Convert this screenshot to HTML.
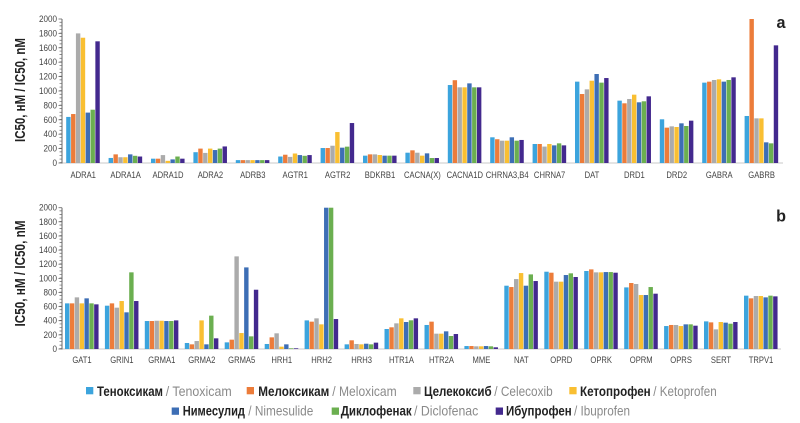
<!DOCTYPE html>
<html><head><meta charset="utf-8"><style>
html,body{margin:0;padding:0;background:#fff;}
svg{display:block;}
.c0{fill:#3CA4DD}.c1{fill:#EC7C3A}.c2{fill:#ABABAB}.c3{fill:#F9BF32}.c4{fill:#3D6EB5}.c5{fill:#6BAF50}.c6{fill:#43298E}
.tk{font-family:"Liberation Sans",sans-serif;font-size:9px;fill:#444;}
.cl{font-family:"Liberation Sans",sans-serif;font-size:9.3px;fill:#444;}
.yt{font-family:"Liberation Sans",sans-serif;font-size:15px;font-weight:bold;fill:#222;}
.lb{font-family:"Liberation Sans","Noto Sans CJK SC",sans-serif;font-size:14px;font-weight:bold;fill:#222;}
.lg{font-family:"Liberation Sans",sans-serif;font-size:14px;fill:#8a8a8a;}
.pl{font-family:"Liberation Sans",sans-serif;font-size:17px;font-weight:bold;fill:#222;}
</style></head><body>
<svg width="800" height="423" viewBox="0 0 800 423" xmlns="http://www.w3.org/2000/svg">
<rect width="800" height="423" fill="#fff"/>

<!-- ===== TOP CHART ===== -->
<line x1="62" y1="163" x2="783" y2="163" stroke="#c8c8c8" stroke-width="1"/>
<line x1="62" y1="19" x2="62" y2="163.5" stroke="#666" stroke-width="1"/>
<line x1="60.75" y1="163" x2="60.75" y2="19" stroke="#666" stroke-width="2.5" stroke-dasharray="0.7 2.9"/>
<g stroke="#666" stroke-width="0.8">
<line x1="58.5" x2="62" y1="163" y2="163"/><line x1="58.5" x2="62" y1="148.6" y2="148.6"/><line x1="58.5" x2="62" y1="134.2" y2="134.2"/><line x1="58.5" x2="62" y1="119.8" y2="119.8"/><line x1="58.5" x2="62" y1="105.4" y2="105.4"/><line x1="58.5" x2="62" y1="91" y2="91"/><line x1="58.5" x2="62" y1="76.6" y2="76.6"/><line x1="58.5" x2="62" y1="62.2" y2="62.2"/><line x1="58.5" x2="62" y1="47.8" y2="47.8"/><line x1="58.5" x2="62" y1="33.4" y2="33.4"/><line x1="58.5" x2="62" y1="19" y2="19"/>
</g>
<g class="tk" text-anchor="end">
<text transform="translate(57,166) scale(0.9,1)">0</text>
<text transform="translate(57,151.6) scale(0.9,1)">200</text>
<text transform="translate(57,137.2) scale(0.9,1)">400</text>
<text transform="translate(57,122.8) scale(0.9,1)">600</text>
<text transform="translate(57,108.4) scale(0.9,1)">800</text>
<text transform="translate(57,94) scale(0.9,1)">1000</text>
<text transform="translate(57,79.6) scale(0.9,1)">1200</text>
<text transform="translate(57,65.2) scale(0.9,1)">1400</text>
<text transform="translate(57,50.8) scale(0.9,1)">1600</text>
<text transform="translate(57,36.4) scale(0.9,1)">1800</text>
<text transform="translate(57,22) scale(0.9,1)">2000</text>
</g>
<text class="yt" transform="translate(25,90) rotate(-90)" text-anchor="middle" textLength="104" lengthAdjust="spacingAndGlyphs">IC50, нМ / IC50, nM</text>
<text class="pl" transform="translate(781,28) scale(0.95,1)" text-anchor="middle">a</text>

<!-- bars top -->
<g transform="translate(83.2,163) scale(1,-0.072)"><rect x="-17" width="4.4" height="640" class="c0"/><rect x="-12.14" width="4.4" height="680" class="c1"/><rect x="-7.28" width="4.4" height="1800" class="c2"/><rect x="-2.42" width="4.4" height="1740" class="c3"/><rect x="2.44" width="4.4" height="700" class="c4"/><rect x="7.3" width="4.4" height="740" class="c5"/><rect x="12.16" width="4.4" height="1690" class="c6"/></g>
<g transform="translate(125.6,163) scale(1,-0.072)"><rect x="-17" width="4.4" height="70" class="c0"/><rect x="-12.14" width="4.4" height="120" class="c1"/><rect x="-7.28" width="4.4" height="80" class="c2"/><rect x="-2.42" width="4.4" height="80" class="c3"/><rect x="2.44" width="4.4" height="120" class="c4"/><rect x="7.3" width="4.4" height="100" class="c5"/><rect x="12.16" width="4.4" height="90" class="c6"/></g>
<g transform="translate(168,163) scale(1,-0.072)"><rect x="-17" width="4.4" height="60" class="c0"/><rect x="-12.14" width="4.4" height="60" class="c1"/><rect x="-7.28" width="4.4" height="110" class="c2"/><rect x="-2.42" width="4.4" height="30" class="c3"/><rect x="2.44" width="4.4" height="50" class="c4"/><rect x="7.3" width="4.4" height="90" class="c5"/><rect x="12.16" width="4.4" height="60" class="c6"/></g>
<g transform="translate(210.4,163) scale(1,-0.072)"><rect x="-17" width="4.4" height="150" class="c0"/><rect x="-12.14" width="4.4" height="200" class="c1"/><rect x="-7.28" width="4.4" height="140" class="c2"/><rect x="-2.42" width="4.4" height="200" class="c3"/><rect x="2.44" width="4.4" height="180" class="c4"/><rect x="7.3" width="4.4" height="200" class="c5"/><rect x="12.16" width="4.4" height="230" class="c6"/></g>
<g transform="translate(252.8,163) scale(1,-0.072)"><rect x="-17" width="4.4" height="40" class="c0"/><rect x="-12.14" width="4.4" height="40" class="c1"/><rect x="-7.28" width="4.4" height="40" class="c2"/><rect x="-2.42" width="4.4" height="40" class="c3"/><rect x="2.44" width="4.4" height="40" class="c4"/><rect x="7.3" width="4.4" height="40" class="c5"/><rect x="12.16" width="4.4" height="40" class="c6"/></g>
<g transform="translate(295.2,163) scale(1,-0.072)"><rect x="-17" width="4.4" height="90" class="c0"/><rect x="-12.14" width="4.4" height="115" class="c1"/><rect x="-7.28" width="4.4" height="85" class="c2"/><rect x="-2.42" width="4.4" height="132" class="c3"/><rect x="2.44" width="4.4" height="110" class="c4"/><rect x="7.3" width="4.4" height="100" class="c5"/><rect x="12.16" width="4.4" height="110" class="c6"/></g>
<g transform="translate(337.6,163) scale(1,-0.072)"><rect x="-17" width="4.4" height="208" class="c0"/><rect x="-12.14" width="4.4" height="208" class="c1"/><rect x="-7.28" width="4.4" height="240" class="c2"/><rect x="-2.42" width="4.4" height="430" class="c3"/><rect x="2.44" width="4.4" height="213" class="c4"/><rect x="7.3" width="4.4" height="227" class="c5"/><rect x="12.16" width="4.4" height="555" class="c6"/></g>
<g transform="translate(380,163) scale(1,-0.072)"><rect x="-17" width="4.4" height="102" class="c0"/><rect x="-12.14" width="4.4" height="120" class="c1"/><rect x="-7.28" width="4.4" height="120" class="c2"/><rect x="-2.42" width="4.4" height="111" class="c3"/><rect x="2.44" width="4.4" height="102" class="c4"/><rect x="7.3" width="4.4" height="102" class="c5"/><rect x="12.16" width="4.4" height="102" class="c6"/></g>
<g transform="translate(422.4,163) scale(1,-0.072)"><rect x="-17" width="4.4" height="143" class="c0"/><rect x="-12.14" width="4.4" height="176" class="c1"/><rect x="-7.28" width="4.4" height="143" class="c2"/><rect x="-2.42" width="4.4" height="102" class="c3"/><rect x="2.44" width="4.4" height="134" class="c4"/><rect x="7.3" width="4.4" height="69" class="c5"/><rect x="12.16" width="4.4" height="69" class="c6"/></g>
<g transform="translate(464.8,163) scale(1,-0.072)"><rect x="-17" width="4.4" height="1083" class="c0"/><rect x="-12.14" width="4.4" height="1150" class="c1"/><rect x="-7.28" width="4.4" height="1051" class="c2"/><rect x="-2.42" width="4.4" height="1051" class="c3"/><rect x="2.44" width="4.4" height="1106" class="c4"/><rect x="7.3" width="4.4" height="1051" class="c5"/><rect x="12.16" width="4.4" height="1051" class="c6"/></g>
<g transform="translate(507.2,163) scale(1,-0.072)"><rect x="-17" width="4.4" height="357" class="c0"/><rect x="-12.14" width="4.4" height="330" class="c1"/><rect x="-7.28" width="4.4" height="310" class="c2"/><rect x="-2.42" width="4.4" height="310" class="c3"/><rect x="2.44" width="4.4" height="357" class="c4"/><rect x="7.3" width="4.4" height="310" class="c5"/><rect x="12.16" width="4.4" height="320" class="c6"/></g>
<g transform="translate(549.6,163) scale(1,-0.072)"><rect x="-17" width="4.4" height="264" class="c0"/><rect x="-12.14" width="4.4" height="264" class="c1"/><rect x="-7.28" width="4.4" height="228" class="c2"/><rect x="-2.42" width="4.4" height="264" class="c3"/><rect x="2.44" width="4.4" height="245" class="c4"/><rect x="7.3" width="4.4" height="273" class="c5"/><rect x="12.16" width="4.4" height="245" class="c6"/></g>
<g transform="translate(592,163) scale(1,-0.072)"><rect x="-17" width="4.4" height="1130" class="c0"/><rect x="-12.14" width="4.4" height="958" class="c1"/><rect x="-7.28" width="4.4" height="1023" class="c2"/><rect x="-2.42" width="4.4" height="1143" class="c3"/><rect x="2.44" width="4.4" height="1236" class="c4"/><rect x="7.3" width="4.4" height="1116" class="c5"/><rect x="12.16" width="4.4" height="1180" class="c6"/></g>
<g transform="translate(634.4,163) scale(1,-0.072)"><rect x="-17" width="4.4" height="866" class="c0"/><rect x="-12.14" width="4.4" height="829" class="c1"/><rect x="-7.28" width="4.4" height="889" class="c2"/><rect x="-2.42" width="4.4" height="949" class="c3"/><rect x="2.44" width="4.4" height="843" class="c4"/><rect x="7.3" width="4.4" height="857" class="c5"/><rect x="12.16" width="4.4" height="926" class="c6"/></g>
<g transform="translate(676.8,163) scale(1,-0.072)"><rect x="-17" width="4.4" height="607" class="c0"/><rect x="-12.14" width="4.4" height="491" class="c1"/><rect x="-7.28" width="4.4" height="509" class="c2"/><rect x="-2.42" width="4.4" height="500" class="c3"/><rect x="2.44" width="4.4" height="551" class="c4"/><rect x="7.3" width="4.4" height="514" class="c5"/><rect x="12.16" width="4.4" height="588" class="c6"/></g>
<g transform="translate(719.2,163) scale(1,-0.072)"><rect x="-17" width="4.4" height="1116" class="c0"/><rect x="-12.14" width="4.4" height="1130" class="c1"/><rect x="-7.28" width="4.4" height="1153" class="c2"/><rect x="-2.42" width="4.4" height="1162" class="c3"/><rect x="2.44" width="4.4" height="1130" class="c4"/><rect x="7.3" width="4.4" height="1153" class="c5"/><rect x="12.16" width="4.4" height="1190" class="c6"/></g>
<g transform="translate(761.6,163) scale(1,-0.072)"><rect x="-17" width="4.4" height="653" class="c0"/><rect x="-12.14" width="4.4" height="2000" class="c1"/><rect x="-7.28" width="4.4" height="620" class="c2"/><rect x="-2.42" width="4.4" height="620" class="c3"/><rect x="2.44" width="4.4" height="287" class="c4"/><rect x="7.3" width="4.4" height="273" class="c5"/><rect x="12.16" width="4.4" height="1634" class="c6"/></g>

<g class="cl" text-anchor="middle">
<text transform="translate(83.2,178) scale(0.82,1)">ADRA1</text>
<text transform="translate(125.6,178) scale(0.82,1)">ADRA1A</text>
<text transform="translate(168,178) scale(0.82,1)">ADRA1D</text>
<text transform="translate(210.4,178) scale(0.82,1)">ADRA2</text>
<text transform="translate(252.8,178) scale(0.82,1)">ADRB3</text>
<text transform="translate(295.2,178) scale(0.82,1)">AGTR1</text>
<text transform="translate(337.6,178) scale(0.82,1)">AGTR2</text>
<text transform="translate(380,178) scale(0.82,1)">BDKRB1</text>
<text transform="translate(422.4,178) scale(0.82,1)">CACNA(X)</text>
<text transform="translate(464.8,178) scale(0.82,1)">CACNA1D</text>
<text transform="translate(507.2,178) scale(0.82,1)">CHRNA3,B4</text>
<text transform="translate(549.6,178) scale(0.82,1)">CHRNA7</text>
<text transform="translate(592,178) scale(0.82,1)">DAT</text>
<text transform="translate(634.4,178) scale(0.82,1)">DRD1</text>
<text transform="translate(676.8,178) scale(0.82,1)">DRD2</text>
<text transform="translate(719.2,178) scale(0.82,1)">GABRA</text>
<text transform="translate(761.6,178) scale(0.82,1)">GABRB</text>
</g>

<!-- ===== BOTTOM CHART ===== -->
<line x1="62" y1="349" x2="781" y2="349" stroke="#c8c8c8" stroke-width="1"/>
<line x1="62" y1="207.7" x2="62" y2="349.5" stroke="#666" stroke-width="1"/>
<line x1="60.75" y1="349" x2="60.75" y2="207.7" stroke="#666" stroke-width="2.5" stroke-dasharray="0.7 2.833"/>
<g stroke="#666" stroke-width="0.8">
<line x1="58.5" x2="62" y1="349" y2="349"/><line x1="58.5" x2="62" y1="334.9" y2="334.9"/><line x1="58.5" x2="62" y1="320.7" y2="320.7"/><line x1="58.5" x2="62" y1="306.6" y2="306.6"/><line x1="58.5" x2="62" y1="292.5" y2="292.5"/><line x1="58.5" x2="62" y1="278.4" y2="278.4"/><line x1="58.5" x2="62" y1="264.2" y2="264.2"/><line x1="58.5" x2="62" y1="250.1" y2="250.1"/><line x1="58.5" x2="62" y1="236" y2="236"/><line x1="58.5" x2="62" y1="221.8" y2="221.8"/><line x1="58.5" x2="62" y1="207.7" y2="207.7"/>
</g>
<g class="tk" text-anchor="end">
<text transform="translate(57,352) scale(0.9,1)">0</text>
<text transform="translate(57,337.9) scale(0.9,1)">200</text>
<text transform="translate(57,323.7) scale(0.9,1)">400</text>
<text transform="translate(57,309.6) scale(0.9,1)">600</text>
<text transform="translate(57,295.5) scale(0.9,1)">800</text>
<text transform="translate(57,281.4) scale(0.9,1)">1000</text>
<text transform="translate(57,267.2) scale(0.9,1)">1200</text>
<text transform="translate(57,253.1) scale(0.9,1)">1400</text>
<text transform="translate(57,239) scale(0.9,1)">1600</text>
<text transform="translate(57,224.8) scale(0.9,1)">1800</text>
<text transform="translate(57,210.7) scale(0.9,1)">2000</text>
</g>
<text class="yt" transform="translate(25,273.5) rotate(-90)" text-anchor="middle" textLength="106" lengthAdjust="spacingAndGlyphs">IC50, нМ / IC50, nM</text>
<text class="pl" transform="translate(781,221.5) scale(0.95,1)" text-anchor="middle">b</text>

<!-- bars bottom -->
<g transform="translate(82,349) scale(1,-0.07065)"><rect x="-17" width="4.4" height="646" class="c0"/><rect x="-12.14" width="4.4" height="646" class="c1"/><rect x="-7.28" width="4.4" height="731" class="c2"/><rect x="-2.42" width="4.4" height="646" class="c3"/><rect x="2.44" width="4.4" height="717" class="c4"/><rect x="7.3" width="4.4" height="646" class="c5"/><rect x="12.16" width="4.4" height="632" class="c6"/></g>
<g transform="translate(121.9,349) scale(1,-0.07065)"><rect x="-17" width="4.4" height="613" class="c0"/><rect x="-12.14" width="4.4" height="646" class="c1"/><rect x="-7.28" width="4.4" height="585" class="c2"/><rect x="-2.42" width="4.4" height="679" class="c3"/><rect x="2.44" width="4.4" height="519" class="c4"/><rect x="7.3" width="4.4" height="1085" class="c5"/><rect x="12.16" width="4.4" height="679" class="c6"/></g>
<g transform="translate(161.8,349) scale(1,-0.07065)"><rect x="-17" width="4.4" height="396" class="c0"/><rect x="-12.14" width="4.4" height="396" class="c1"/><rect x="-7.28" width="4.4" height="400" class="c2"/><rect x="-2.42" width="4.4" height="400" class="c3"/><rect x="2.44" width="4.4" height="396" class="c4"/><rect x="7.3" width="4.4" height="396" class="c5"/><rect x="12.16" width="4.4" height="405" class="c6"/></g>
<g transform="translate(201.8,349) scale(1,-0.07065)"><rect x="-17" width="4.4" height="85" class="c0"/><rect x="-12.14" width="4.4" height="66" class="c1"/><rect x="-7.28" width="4.4" height="113" class="c2"/><rect x="-2.42" width="4.4" height="405" class="c3"/><rect x="2.44" width="4.4" height="66" class="c4"/><rect x="7.3" width="4.4" height="472" class="c5"/><rect x="12.16" width="4.4" height="151" class="c6"/></g>
<g transform="translate(241.7,349) scale(1,-0.07065)"><rect x="-17" width="4.4" height="94" class="c0"/><rect x="-12.14" width="4.4" height="132" class="c1"/><rect x="-7.28" width="4.4" height="1311" class="c2"/><rect x="-2.42" width="4.4" height="226" class="c3"/><rect x="2.44" width="4.4" height="1155" class="c4"/><rect x="7.3" width="4.4" height="179" class="c5"/><rect x="12.16" width="4.4" height="839" class="c6"/></g>
<g transform="translate(281.7,349) scale(1,-0.07065)"><rect x="-17" width="4.4" height="71" class="c0"/><rect x="-12.14" width="4.4" height="165" class="c1"/><rect x="-7.28" width="4.4" height="222" class="c2"/><rect x="-2.42" width="4.4" height="33" class="c3"/><rect x="2.44" width="4.4" height="66" class="c4"/><rect x="7.3" width="4.4" height="10" class="c5"/><rect x="12.16" width="4.4" height="10" class="c6"/></g>
<g transform="translate(321.6,349) scale(1,-0.07065)"><rect x="-17" width="4.4" height="405" class="c0"/><rect x="-12.14" width="4.4" height="387" class="c1"/><rect x="-7.28" width="4.4" height="434" class="c2"/><rect x="-2.42" width="4.4" height="349" class="c3"/><rect x="2.44" width="4.4" height="2000" class="c4"/><rect x="7.3" width="4.4" height="2000" class="c5"/><rect x="12.16" width="4.4" height="424" class="c6"/></g>
<g transform="translate(361.6,349) scale(1,-0.07065)"><rect x="-17" width="4.4" height="66" class="c0"/><rect x="-12.14" width="4.4" height="123" class="c1"/><rect x="-7.28" width="4.4" height="71" class="c2"/><rect x="-2.42" width="4.4" height="66" class="c3"/><rect x="2.44" width="4.4" height="75" class="c4"/><rect x="7.3" width="4.4" height="66" class="c5"/><rect x="12.16" width="4.4" height="90" class="c6"/></g>
<g transform="translate(401.5,349) scale(1,-0.07065)"><rect x="-17" width="4.4" height="283" class="c0"/><rect x="-12.14" width="4.4" height="307" class="c1"/><rect x="-7.28" width="4.4" height="363" class="c2"/><rect x="-2.42" width="4.4" height="434" class="c3"/><rect x="2.44" width="4.4" height="382" class="c4"/><rect x="7.3" width="4.4" height="406" class="c5"/><rect x="12.16" width="4.4" height="434" class="c6"/></g>
<g transform="translate(441.5,349) scale(1,-0.07065)"><rect x="-17" width="4.4" height="340" class="c0"/><rect x="-12.14" width="4.4" height="387" class="c1"/><rect x="-7.28" width="4.4" height="217" class="c2"/><rect x="-2.42" width="4.4" height="217" class="c3"/><rect x="2.44" width="4.4" height="250" class="c4"/><rect x="7.3" width="4.4" height="184" class="c5"/><rect x="12.16" width="4.4" height="212" class="c6"/></g>
<g transform="translate(481.4,349) scale(1,-0.07065)"><rect x="-17" width="4.4" height="42" class="c0"/><rect x="-12.14" width="4.4" height="42" class="c1"/><rect x="-7.28" width="4.4" height="38" class="c2"/><rect x="-2.42" width="4.4" height="38" class="c3"/><rect x="2.44" width="4.4" height="42" class="c4"/><rect x="7.3" width="4.4" height="38" class="c5"/><rect x="12.16" width="4.4" height="24" class="c6"/></g>
<g transform="translate(521.3,349) scale(1,-0.07065)"><rect x="-17" width="4.4" height="896" class="c0"/><rect x="-12.14" width="4.4" height="877" class="c1"/><rect x="-7.28" width="4.4" height="990" class="c2"/><rect x="-2.42" width="4.4" height="1075" class="c3"/><rect x="2.44" width="4.4" height="896" class="c4"/><rect x="7.3" width="4.4" height="1056" class="c5"/><rect x="12.16" width="4.4" height="962" class="c6"/></g>
<g transform="translate(561.3,349) scale(1,-0.07065)"><rect x="-17" width="4.4" height="1094" class="c0"/><rect x="-12.14" width="4.4" height="1080" class="c1"/><rect x="-7.28" width="4.4" height="953" class="c2"/><rect x="-2.42" width="4.4" height="953" class="c3"/><rect x="2.44" width="4.4" height="1047" class="c4"/><rect x="7.3" width="4.4" height="1071" class="c5"/><rect x="12.16" width="4.4" height="1019" class="c6"/></g>
<g transform="translate(601.2,349) scale(1,-0.07065)"><rect x="-17" width="4.4" height="1104" class="c0"/><rect x="-12.14" width="4.4" height="1127" class="c1"/><rect x="-7.28" width="4.4" height="1085" class="c2"/><rect x="-2.42" width="4.4" height="1085" class="c3"/><rect x="2.44" width="4.4" height="1089" class="c4"/><rect x="7.3" width="4.4" height="1089" class="c5"/><rect x="12.16" width="4.4" height="1080" class="c6"/></g>
<g transform="translate(641.2,349) scale(1,-0.07065)"><rect x="-17" width="4.4" height="872" class="c0"/><rect x="-12.14" width="4.4" height="934" class="c1"/><rect x="-7.28" width="4.4" height="920" class="c2"/><rect x="-2.42" width="4.4" height="764" class="c3"/><rect x="2.44" width="4.4" height="764" class="c4"/><rect x="7.3" width="4.4" height="877" class="c5"/><rect x="12.16" width="4.4" height="783" class="c6"/></g>
<g transform="translate(681.1,349) scale(1,-0.07065)"><rect x="-17" width="4.4" height="325" class="c0"/><rect x="-12.14" width="4.4" height="340" class="c1"/><rect x="-7.28" width="4.4" height="340" class="c2"/><rect x="-2.42" width="4.4" height="325" class="c3"/><rect x="2.44" width="4.4" height="349" class="c4"/><rect x="7.3" width="4.4" height="349" class="c5"/><rect x="12.16" width="4.4" height="330" class="c6"/></g>
<g transform="translate(721,349) scale(1,-0.07065)"><rect x="-17" width="4.4" height="391" class="c0"/><rect x="-12.14" width="4.4" height="377" class="c1"/><rect x="-7.28" width="4.4" height="278" class="c2"/><rect x="-2.42" width="4.4" height="382" class="c3"/><rect x="2.44" width="4.4" height="373" class="c4"/><rect x="7.3" width="4.4" height="358" class="c5"/><rect x="12.16" width="4.4" height="382" class="c6"/></g>
<g transform="translate(761,349) scale(1,-0.07065)"><rect x="-17" width="4.4" height="755" class="c0"/><rect x="-12.14" width="4.4" height="717" class="c1"/><rect x="-7.28" width="4.4" height="750" class="c2"/><rect x="-2.42" width="4.4" height="750" class="c3"/><rect x="2.44" width="4.4" height="731" class="c4"/><rect x="7.3" width="4.4" height="755" class="c5"/><rect x="12.16" width="4.4" height="745" class="c6"/></g>

<g class="cl" text-anchor="middle">
<text transform="translate(82,363) scale(0.82,1)">GAT1</text>
<text transform="translate(121.9,363) scale(0.82,1)">GRIN1</text>
<text transform="translate(161.8,363) scale(0.82,1)">GRMA1</text>
<text transform="translate(201.8,363) scale(0.82,1)">GRMA2</text>
<text transform="translate(241.7,363) scale(0.82,1)">GRMA5</text>
<text transform="translate(281.7,363) scale(0.82,1)">HRH1</text>
<text transform="translate(321.6,363) scale(0.82,1)">HRH2</text>
<text transform="translate(361.6,363) scale(0.82,1)">HRH3</text>
<text transform="translate(401.5,363) scale(0.82,1)">HTR1A</text>
<text transform="translate(441.5,363) scale(0.82,1)">HTR2A</text>
<text transform="translate(481.4,363) scale(0.82,1)">MME</text>
<text transform="translate(521.3,363) scale(0.82,1)">NAT</text>
<text transform="translate(561.3,363) scale(0.82,1)">OPRD</text>
<text transform="translate(601.2,363) scale(0.82,1)">OPRK</text>
<text transform="translate(641.2,363) scale(0.82,1)">OPRM</text>
<text transform="translate(681.1,363) scale(0.82,1)">OPRS</text>
<text transform="translate(721,363) scale(0.82,1)">SERT</text>
<text transform="translate(761,363) scale(0.82,1)">TRPV1</text>
</g>

<!-- ===== LEGEND ===== -->
<rect x="86" y="387" width="7.3" height="7.3" class="c0"/>
<text class="lb" x="97" y="396" textLength="66" lengthAdjust="spacingAndGlyphs">Теноксикам</text>
<text class="lg" x="165.7" y="396" textLength="66" lengthAdjust="spacingAndGlyphs">/ Tenoxicam</text>

<rect x="246.7" y="387" width="7.3" height="7.3" class="c1"/>
<text class="lb" x="258.3" y="396" textLength="71" lengthAdjust="spacingAndGlyphs">Мелоксикам</text>
<text class="lg" x="332.3" y="396" textLength="64.4" lengthAdjust="spacingAndGlyphs">/ Meloxicam</text>

<rect x="413.3" y="387" width="7.3" height="7.3" class="c2"/>
<text class="lb" x="424" y="396" textLength="67.7" lengthAdjust="spacingAndGlyphs">Целекоксиб</text>
<text class="lg" x="494.3" y="396" textLength="58.4" lengthAdjust="spacingAndGlyphs">/ Celecoxib</text>

<rect x="569.3" y="387" width="7.3" height="7.3" class="c3"/>
<text class="lb" x="580" y="396" textLength="70.7" lengthAdjust="spacingAndGlyphs">Кетопрофен</text>
<text class="lg" x="653.3" y="396" textLength="63.4" lengthAdjust="spacingAndGlyphs">/ Ketoprofen</text>

<rect x="171.7" y="407.5" width="7.3" height="7.3" class="c4"/>
<text class="lb" x="182.7" y="415.5" textLength="62.3" lengthAdjust="spacingAndGlyphs">Нимесулид</text>
<text class="lg" x="248.3" y="415.5" textLength="65" lengthAdjust="spacingAndGlyphs">/ Nimesulide</text>

<rect x="331.7" y="407.5" width="7.3" height="7.3" class="c5"/>
<text class="lb" x="340.7" y="415.5" textLength="71" lengthAdjust="spacingAndGlyphs">Диклофенак</text>
<text class="lg" x="414" y="415.5" textLength="64.3" lengthAdjust="spacingAndGlyphs">/ Diclofenac</text>

<rect x="495.7" y="407.5" width="7.3" height="7.3" class="c6"/>
<text class="lb" x="506" y="415.5" textLength="65.7" lengthAdjust="spacingAndGlyphs">Ибупрофен</text>
<text class="lg" x="574" y="415.5" textLength="56" lengthAdjust="spacingAndGlyphs">/ Ibuprofen</text>
</svg>
</body></html>
